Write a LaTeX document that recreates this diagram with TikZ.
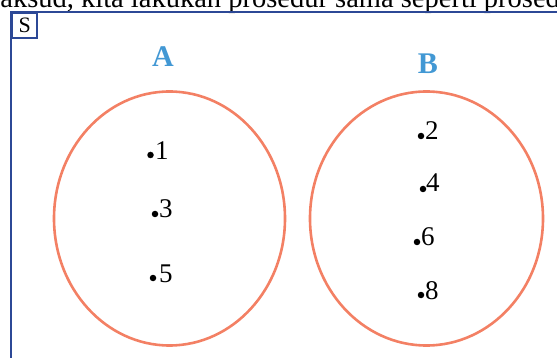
\documentclass[tikz,border=0pt]{standalone}
\usepackage{fontspec}
\setmainfont{Liberation Serif}
\definecolor{frameblue}{RGB}{44,72,150}
\definecolor{setline}{RGB}{243,128,100}
\definecolor{labelblue}{RGB}{66,152,212}
\begin{document}
\begin{tikzpicture}[x=1pt,y=-1pt,
  frame/.style={draw=frameblue,line width=2.3pt},
  setshape/.style={draw=setline,line width=2.6pt},
  setlabel/.style={font=\fontsize{30}{30}\selectfont\bfseries,text=labelblue,inner sep=0pt},
  elem/.style={font=\fontsize{27}{27}\selectfont,inner sep=0pt,anchor=base west},
  dotmark/.style={fill=black,circle,inner sep=0pt,minimum size=6.5pt}]
\useasboundingbox (0,0) rectangle (557,358);
\begin{scope}
\clip (0,0) rectangle (557,358);
\node[anchor=base west,inner sep=0pt,font=\fontsize{28.5}{28.5}\selectfont] (top) at (-22,8) {maksud, kita lakukan prosedur sama seperti prosedur};
\end{scope}
% frame
\coordinate (fc) at (11,12);
\coordinate (fr) at (560,12);
\coordinate (fb) at (11,360);
\draw[frame] (fr) -- (fc) -- (fb);
\node[frame,anchor=north west,minimum width=25pt,minimum height=25pt,inner sep=0pt,font=\fontsize{22}{22}\selectfont] (S) at (fc) {S};
% sets
\draw[setshape] (169.5,218.5) ellipse [x radius=115.5, y radius=127];
\draw[setshape] (426.5,218.5) ellipse [x radius=116.5, y radius=127];
\node[setlabel] (A) at (163,57) {A};
\node[setlabel] (B) at (428,64) {B};
% elements
\node[dotmark] (d1) at (150.5,155) {};
\node[elem] (e1) at (155,159.5) {1};
\node[dotmark] (d3) at (155,214) {};
\node[elem] (e3) at (159,218) {3};
\node[dotmark] (d5) at (153,278) {};
\node[elem] (e5) at (159,283) {5};
\node[dotmark] (d2) at (421,136) {};
\node[elem] (e2) at (425,140) {2};
\node[dotmark] (d4) at (423,189) {};
\node[elem] (e4) at (426,192) {4};
\node[dotmark] (d6) at (417,242) {};
\node[elem] (e6) at (421,245.5) {6};
\node[dotmark] (d8) at (421,295) {};
\node[elem] (e8) at (425,299) {8};
\end{tikzpicture}
\end{document}
